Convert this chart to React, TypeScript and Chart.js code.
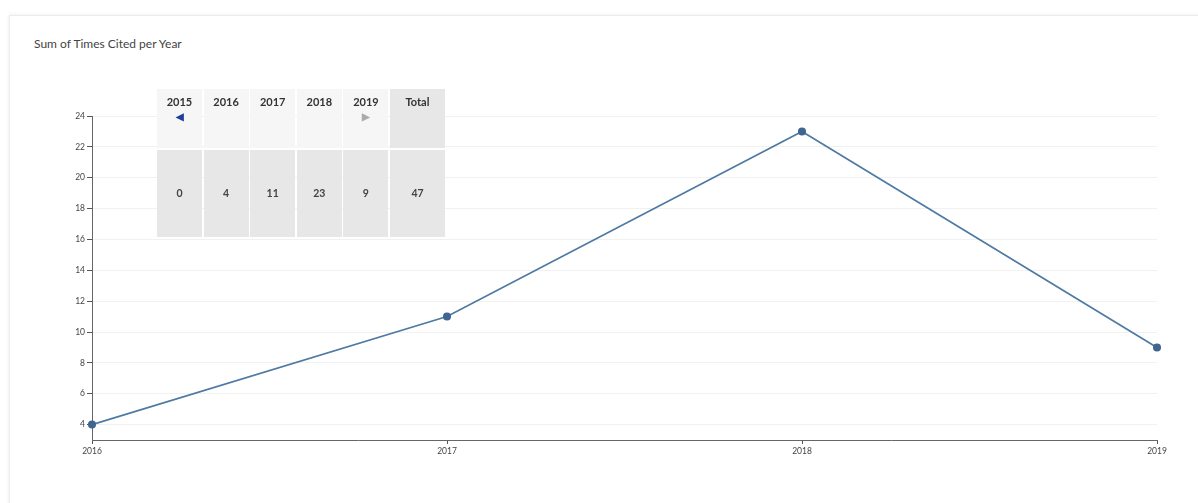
import React, { useEffect, useRef } from "react";
import { Chart, registerables } from "chart.js";

Chart.register(...registerables);

const years = ["2016", "2017", "2018", "2019"];
const timesCited = [4, 11, 23, 9];
const yTicks = [4, 6, 8, 10, 12, 14, 16, 18, 20, 22, 24];
const tableYears = ["2015", "2016", "2017", "2018", "2019"];
const tableValues = ["0", "4", "11", "23", "9"];
const tableTotal = "47";
const title = "Sum of Times Cited per Year";

const FONT = "Lato, 'Open Sans', sans-serif";

export default function App() {
  const ref = useRef<HTMLCanvasElement | null>(null);

  useEffect(() => {
    if (!ref.current) return;
    const chart = new Chart(ref.current, {
      type: "line",
      data: {
        labels: years,
        datasets: [
          {
            data: timesCited,
            borderColor: "#4f7aa3",
            borderWidth: 1.7,
            pointBackgroundColor: "#3f6690",
            pointBorderColor: "#3f6690",
            pointRadius: 3.2,
            tension: 0,
            fill: false,
          },
        ],
      },
      options: {
        responsive: false,
        animation: false,
        layout: { padding: { left: 0, top: 116, right: 41, bottom: 0 } },
        plugins: { legend: { display: false }, tooltip: { enabled: false } },
        scales: {
          x: {
            type: "category",
            offset: false,
            grid: {
              drawOnChartArea: false,
              drawTicks: true,
              tickLength: 4,
              tickColor: "#555",
            },
            border: { color: "#666", width: 1 },
            ticks: {
              color: "#444",
              font: { family: FONT, size: 8.5 },
              padding: 2,
              maxRotation: 0,
              autoSkip: false,
            },
            afterFit: (s: any) => {
              s.height = 63;
            },
          },
          y: {
            min: 3,
            max: 24,
            afterBuildTicks: (s: any) => {
              s.ticks = yTicks.map((v) => ({ value: v }));
            },
            grid: {
              color: "#f1f1f1",
              tickColor: "#555",
              tickLength: 5,
              lineWidth: 1,
            },
            border: { color: "#666", width: 1 },
            ticks: {
              color: "#444",
              font: { family: FONT, size: 8.5 },
              padding: 2,
            },
            afterFit: (s: any) => {
              s.width = 92;
            },
          },
        },
      },
    });
    return () => chart.destroy();
  }, []);

  const colLeft = (i: number) => 157 + i * 46.6;

  return (
    <div
      style={{
        position: "fixed",
        left: 0,
        top: 0,
        width: 1198,
        height: 503,
        background: "#fff",
        overflow: "hidden",
        fontFamily: FONT,
      }}
    >
      <div
        style={{
          position: "absolute",
          left: 9,
          top: 15,
          width: 1200,
          height: 520,
          border: "1px solid #ececec",
          boxShadow: "0 0 4px rgba(0,0,0,0.08)",
          background: "#fff",
        }}
      />
      <div
        style={{
          position: "absolute",
          left: 34,
          top: 36,
          fontSize: 12,
          color: "#444",
          fontFamily: FONT,
        }}
      >
        {title}
      </div>
      <canvas
        ref={ref}
        width={1198}
        height={503}
        style={{ position: "absolute", left: 0, top: 0, width: 1198, height: 503 }}
      />
      {tableYears.map((y, i) => (
        <React.Fragment key={y}>
          <div
            style={{
              position: "absolute",
              left: colLeft(i),
              top: 89,
              width: 45,
              height: 59,
              background: "rgba(246,246,246,0.95)",
              textAlign: "center",
              fontSize: 11,
              fontWeight: 700,
              color: "#333",
              paddingTop: 6,
              boxSizing: "border-box",
            }}
          >
            {y}
            {i === 0 && (
              <div style={{ color: "#1f3f9a", fontSize: 10, lineHeight: "12px", marginTop: 2 }}>◀</div>
            )}
            {i === tableYears.length - 1 && (
              <div style={{ color: "#aaa", fontSize: 10, lineHeight: "12px", marginTop: 2 }}>▶</div>
            )}
          </div>
          <div
            style={{
              position: "absolute",
              left: colLeft(i),
              top: 150,
              width: 45,
              height: 87,
              background: "rgba(230,230,230,0.95)",
              textAlign: "center",
              fontSize: 10.5,
              fontWeight: 700,
              color: "#444",
              lineHeight: "87px",
            }}
          >
            {tableValues[i]}
          </div>
        </React.Fragment>
      ))}
      <div
        style={{
          position: "absolute",
          left: colLeft(5),
          top: 89,
          width: 55,
          height: 59,
          background: "rgba(230,230,230,0.95)",
          textAlign: "center",
          fontSize: 11,
          fontWeight: 700,
          color: "#333",
          paddingTop: 6,
          boxSizing: "border-box",
        }}
      >
        Total
      </div>
      <div
        style={{
          position: "absolute",
          left: colLeft(5),
          top: 150,
          width: 55,
          height: 87,
          background: "rgba(230,230,230,0.95)",
          textAlign: "center",
          fontSize: 10.5,
          fontWeight: 700,
          color: "#444",
          lineHeight: "87px",
        }}
      >
        {tableTotal}
      </div>
    </div>
  );
}
